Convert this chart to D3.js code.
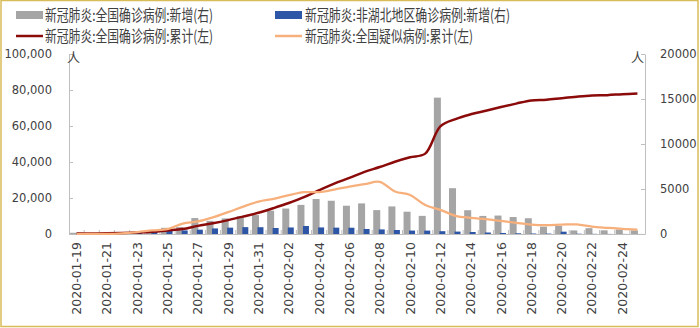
<!DOCTYPE html>
<html>
<head>
<meta charset="utf-8">
<script src="https://cdn.jsdelivr.net/npm/d3@7/dist/d3.min.js"></script>
<style>
  html, body { margin: 0; padding: 0; background: #fff; }
  svg { display: block; }
</style>
</head>
<body>
<svg id="chart" width="700" height="328"></svg>
<script>
// Daily dates, 2020-01-19 .. 2020-02-25
const dates = [
  "2020-01-19","2020-01-20","2020-01-21","2020-01-22","2020-01-23","2020-01-24","2020-01-25",
  "2020-01-26","2020-01-27","2020-01-28","2020-01-29","2020-01-30","2020-01-31","2020-02-01",
  "2020-02-02","2020-02-03","2020-02-04","2020-02-05","2020-02-06","2020-02-07","2020-02-08",
  "2020-02-09","2020-02-10","2020-02-11","2020-02-12","2020-02-13","2020-02-14","2020-02-15",
  "2020-02-16","2020-02-17","2020-02-18","2020-02-19","2020-02-20","2020-02-21","2020-02-22",
  "2020-02-23","2020-02-24","2020-02-25"
];

// New confirmed cases, nationwide (right axis)
const newNational = [
  136, 77, 149, 131, 259, 444, 688, 769, 1771, 1459, 1737, 1982, 2102, 2590,
  2829, 3235, 3887, 3694, 3143, 3399, 2656, 3062, 2478, 2015, 15152, 5090, 2641, 2009,
  2048, 1886, 1749, 820, 889, 397, 648, 409, 508, 406
];

// New confirmed cases outside Hubei (right axis)
const newOutsideHubei = [
  3, 18, 77, 26, 154, 264, 365, 398, 480, 619, 705, 762, 755, 669,
  726, 890, 731, 707, 696, 558, 509, 444, 381, 377, 312, 267, 221, 166,
  115, 79, 56, 45, 258, 31, 18, 11, 9, 5
];

// Cumulative confirmed cases, nationwide (left axis)
const cumConfirmed = [
  217, 291, 440, 571, 830, 1287, 1975, 2744, 4515, 5974, 7711, 9692, 11791, 14380,
  17205, 20438, 24324, 28018, 31161, 34546, 37198, 40171, 42638, 44653, 59804, 63851, 66492, 68500,
  70548, 72436, 74185, 74576, 75465, 76288, 76936, 77150, 77658, 78064
];

// Suspected cases, nationwide (left axis)
const suspected = [
  0, 54, 37, 393, 1072, 1965, 2684, 5794, 6973, 9239, 12167, 15238, 17988, 19544,
  21558, 23214, 23260, 24702, 26359, 27657, 28942, 23589, 21675, 16067, 13435, 10109, 8969, 8228,
  7264, 6242, 5248, 4922, 5206, 5365, 4148, 3434, 2824, 2491
];

const leftTicks = [0, 20000, 40000, 60000, 80000, 100000];
const rightTicks = [0, 5000, 10000, 15000, 20000];

const legendItems = [
  { label: "新冠肺炎:全国确诊病例:新增(右)", kind: "bar", color: "#a5a5a5" },
  { label: "新冠肺炎:非湖北地区确诊病例:新增(右)", kind: "bar", color: "#2e56a6" },
  { label: "新冠肺炎:全国确诊病例:累计(左)", kind: "line", color: "#8b0a0a" },
  { label: "新冠肺炎:全国疑似病例:累计(左)", kind: "line", color: "#f7b07c" }
];

const svg = d3.select("#chart");
const W = 700, H = 328;
const plot = { left: 69, right: 645, top: 54, bottom: 234 };
const textColor = "#404040";
const axisColor = "#bfbfbf";
const numFont = "'DejaVu Sans', sans-serif";
const cjkFont = "'Noto Sans CJK SC', sans-serif";

// outer frame
svg.append("rect")
  .attr("x", 1).attr("y", 0.5).attr("width", W - 3).attr("height", H - 2)
  .attr("fill", "none").attr("stroke", "#d9bc5a").attr("stroke-width", 1.5);

const x = d3.scaleBand().domain(dates).range([plot.left, plot.right]).padding(0);
const yL = d3.scaleLinear().domain([0, 100000]).range([plot.bottom, plot.top]);
const yR = d3.scaleLinear().domain([0, 20000]).range([plot.bottom, plot.top]);
const cx = d => x(d) + x.bandwidth() / 2;

// left axis
const gL = svg.append("g").attr("transform", `translate(${plot.left},0)`)
  .call(d3.axisLeft(yL).tickValues(leftTicks).tickFormat(d3.format(","))
    .tickSizeInner(-4).tickSizeOuter(0).tickPadding(17));
gL.select(".domain").attr("stroke", axisColor);
gL.selectAll(".tick line").attr("stroke", axisColor);
gL.selectAll("text").attr("fill", textColor).style("font-family", numFont).style("font-size", "11.5px");

// right axis
const gR = svg.append("g").attr("transform", `translate(${plot.right},0)`)
  .call(d3.axisRight(yR).tickValues(rightTicks).tickFormat(d3.format("d"))
    .tickSizeInner(-4).tickSizeOuter(0).tickPadding(15));
gR.select(".domain").attr("stroke", axisColor);
gR.selectAll(".tick line").attr("stroke", axisColor);
gR.selectAll("text").attr("fill", textColor).style("font-family", numFont).style("font-size", "11.5px");

// unit marks
svg.append("text").attr("x", plot.left - 2).attr("y", 62).text("人")
  .attr("fill", textColor).style("font-family", cjkFont).style("font-size", "13px");
svg.append("text").attr("x", plot.right - 14).attr("y", 62).text("人")
  .attr("fill", textColor).style("font-family", cjkFont).style("font-size", "13px");

// bars: nationwide new (grey), outside-Hubei new (blue)
svg.append("g").selectAll("rect").data(dates).join("rect")
  .attr("x", d => cx(d) - 6.5)
  .attr("width", 7)
  .attr("y", (d, i) => yR(newNational[i]))
  .attr("height", (d, i) => plot.bottom - yR(newNational[i]))
  .attr("fill", "#a5a5a5");

svg.append("g").selectAll("rect").data(dates).join("rect")
  .attr("x", d => cx(d) - 1)
  .attr("width", 6)
  .attr("y", (d, i) => yR(newOutsideHubei[i]))
  .attr("height", (d, i) => plot.bottom - yR(newOutsideHubei[i]))
  .attr("fill", "#2e56a6");

// x axis baseline with category-boundary ticks
const gX = svg.append("g").attr("transform", `translate(0,${plot.bottom})`)
  .call(d3.axisBottom(x).tickValues(dates.filter((d, i) => i % 2 === 0))
    .tickSize(0).tickPadding(0));
gX.select(".domain").attr("stroke", axisColor);
gX.selectAll("text")
  .attr("transform", "rotate(-90)")
  .attr("x", -8).attr("y", 0).attr("dy", "0.36em")
  .style("text-anchor", "end")
  .attr("fill", textColor)
  .style("font-family", numFont).style("font-size", "12.5px");

svg.append("g").selectAll("line").data(dates.slice(1)).join("line")
  .attr("x1", d => x(d)).attr("x2", d => x(d))
  .attr("y1", plot.bottom).attr("y2", plot.bottom - 4)
  .attr("stroke", axisColor);

// lines on the left axis
const curve = d3.curveCatmullRom.alpha(0.5);
const lineConfirmed = d3.line().x(d => cx(d)).y((d, i) => yL(cumConfirmed[i])).curve(curve);
const lineSuspected = d3.line().x(d => cx(d)).y((d, i) => yL(suspected[i])).curve(curve);

svg.append("path").datum(dates).attr("d", lineConfirmed)
  .attr("fill", "none").attr("stroke", "#8b0a0a").attr("stroke-width", 2.5)
  .attr("stroke-linejoin", "round");
svg.append("path").datum(dates).attr("d", lineSuspected)
  .attr("fill", "none").attr("stroke", "#f7b07c").attr("stroke-width", 2.25)
  .attr("stroke-linejoin", "round");

// legend
const legendPos = [
  { x: 16, y: 15, tx: 45, w: 168 },
  { x: 275, y: 15, tx: 305, w: 205 },
  { x: 16, y: 36, tx: 45, w: 168 },
  { x: 275, y: 36, tx: 305, w: 168 }
];
const lg = svg.append("g");
legendItems.forEach((it, i) => {
  const p = legendPos[i];
  if (it.kind === "bar") {
    lg.append("rect").attr("x", p.x).attr("y", p.y - 4).attr("width", 27).attr("height", 8)
      .attr("fill", it.color);
  } else {
    lg.append("line").attr("x1", p.x).attr("x2", p.x + 27).attr("y1", p.y).attr("y2", p.y)
      .attr("stroke", it.color).attr("stroke-width", 2.5);
  }
  lg.append("text").attr("x", p.tx).attr("y", p.y).attr("dy", "0.36em")
    .attr("textLength", p.w).attr("lengthAdjust", "spacingAndGlyphs")
    .text(it.label).attr("fill", textColor)
    .style("font-family", cjkFont).style("font-size", "15.5px");
});
</script>
</body>
</html>
